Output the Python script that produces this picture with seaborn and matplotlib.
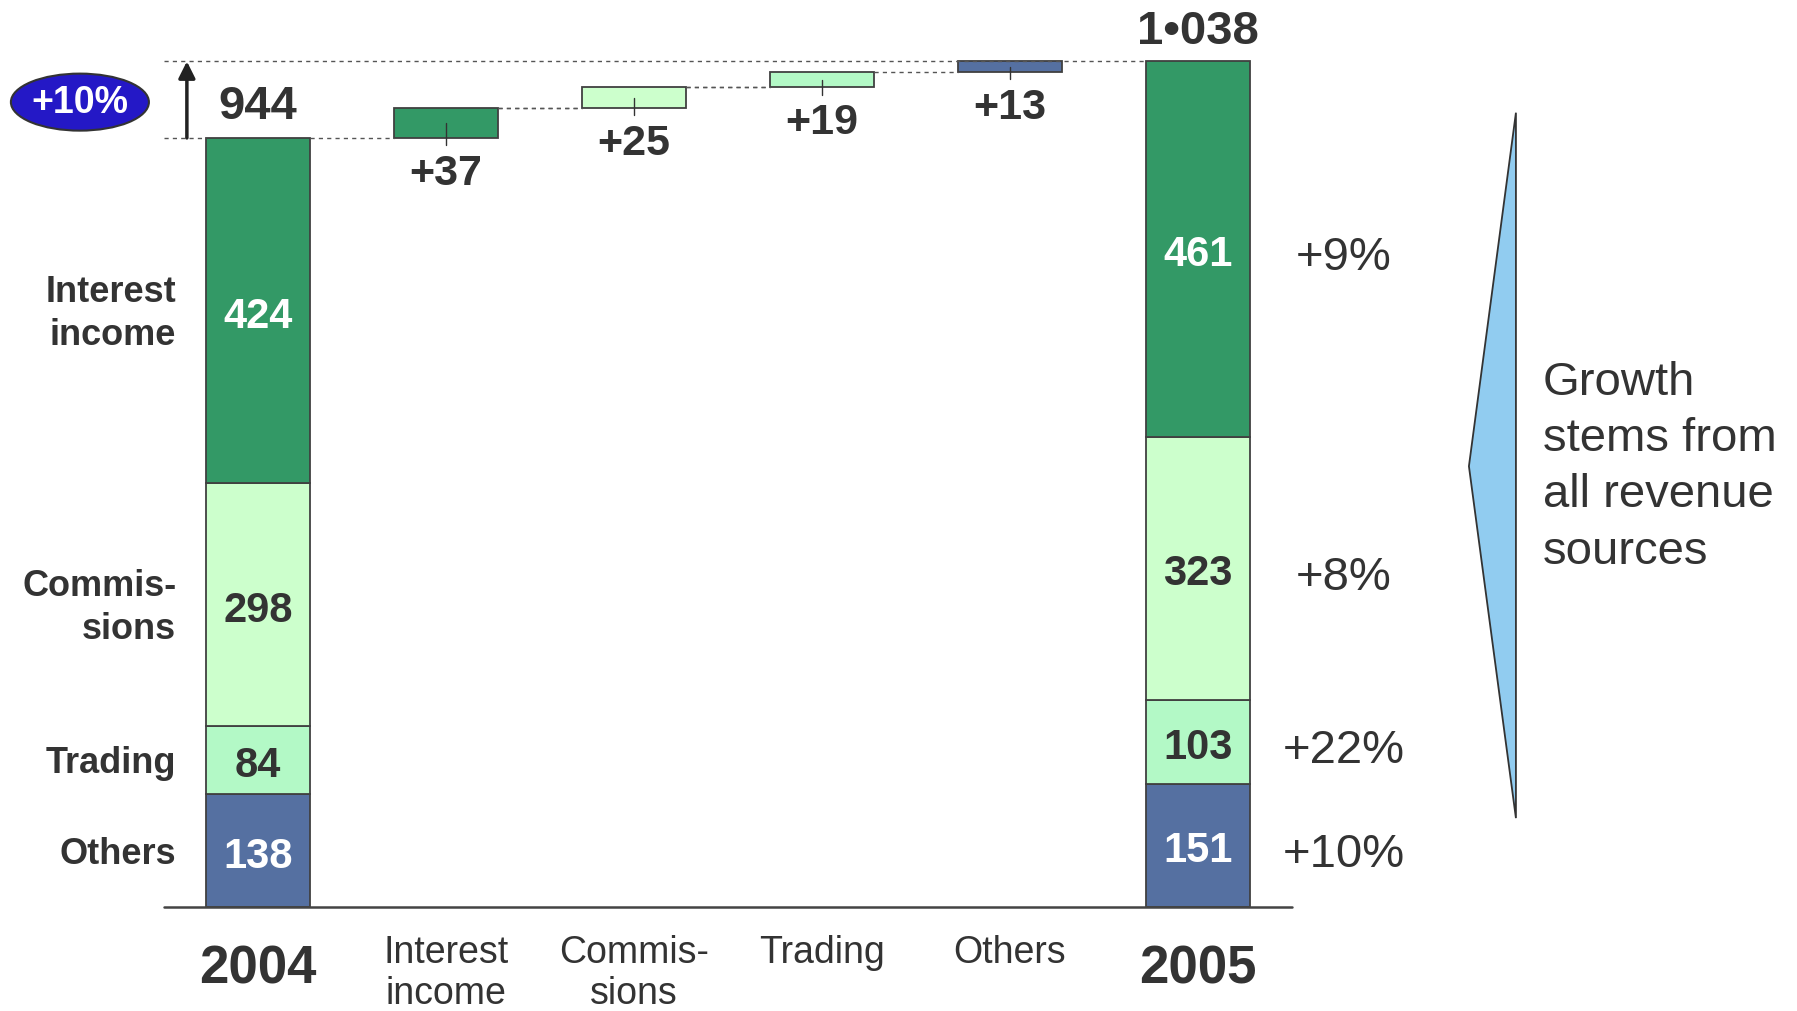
import matplotlib
matplotlib.use('Agg')
import matplotlib.pyplot as plt
import seaborn as sns
import pandas as pd
from matplotlib.patches import Ellipse, Polygon

# Data
categories = ['2004', 'Interest income', 'Commissions', 'Trading', 'Others', '2005']
x_labels = ['2004', 'Interest\nincome', 'Commis-\nsions', 'Trading', 'Others', '2005']
segments = ['Others', 'Trading', 'Commissions', 'Interest income']
seg_labels = ['Others', 'Trading', 'Commis-\nsions', 'Interest\nincome']
values_2004 = [138, 84, 298, 424]
values_2005 = [151, 103, 323, 461]
deltas = [37, 25, 19, 13]          # interest, commissions, trading, others
growth = ['+10%', '+22%', '+8%', '+9%']
total_growth = '+10%'

seg_colors = {'Others': '#5570A1', 'Trading': '#B3F9C6',
              'Commissions': '#CCFFCC', 'Interest income': '#339966'}
seg_text = {'Others': 'white', 'Trading': '#333333',
            'Commissions': '#333333', 'Interest income': 'white'}
delta_seg = ['Interest income', 'Commissions', 'Trading', 'Others']

# Build bar table
rows = []
for year, vals in [('2004', values_2004), ('2005', values_2005)]:
    b = 0
    for seg, v in zip(segments, vals):
        rows.append(dict(cat=year, seg=seg, bottom=b, height=v))
        b += v
total_2004 = sum(values_2004)
total_2005 = sum(values_2005)
level = total_2004
for cat, seg, d in zip(categories[1:5], delta_seg, deltas):
    rows.append(dict(cat=cat, seg=seg, bottom=level, height=d))
    level += d
df = pd.DataFrame(rows)

sns.set_style('white')
plt.rcParams['font.family'] = ['Liberation Sans', 'DejaVu Sans']
dark = '#333333'
W = 0.555

fig = plt.figure(figsize=(17.97, 10.12), dpi=100)
ax = fig.add_axes([0, 0, 1, 1])

for _, r in df.iterrows():
    sns.barplot(x=[r['cat']], y=[r['height']], order=categories, bottom=r['bottom'],
                color=seg_colors[r['seg']], saturation=1, width=W,
                edgecolor='#404040', linewidth=1.3, errorbar=None, ax=ax)

ax.set_xlim(-1.372, 8.186)
ax.set_ylim(-127.8, 1114.6)
ax.axis('off')

# baseline
ax.plot([-0.5, 5.5], [0, 0], color='#444444', lw=1.8, zorder=3)

# dashed connectors
dash = dict(color='#555555', lw=1.0, ls=(0, (3, 3)), zorder=1)
ax.plot([-0.5, 5 - W / 2], [total_2005] * 2, **dash)
ax.plot([-0.5, -W / 2], [total_2004] * 2, **dash)
lvl = total_2004
for i, d in enumerate(deltas[:-1]):
    ax.plot([i + W / 2, i + 1 - W / 2], [lvl, lvl], **dash)
    lvl += d
    ax.plot([i + 1 + W / 2, i + 2 - W / 2], [lvl, lvl], **dash)

# delta labels and small ticks
lvl = total_2004
for i, d in enumerate(deltas):
    x = i + 1
    ax.plot([x, x], [lvl + d / 2, lvl - 9], color='#333333', lw=1.0, zorder=4)
    ax.text(x, lvl - 43, f'+{d}', ha='center', va='center', fontsize=31,
            fontweight='bold', color=dark)
    lvl += d

# segment values inside stacked bars
for _, r in df[df['cat'].isin(['2004', '2005'])].iterrows():
    x = categories.index(r['cat'])
    ax.text(x, r['bottom'] + r['height'] / 2 - 6, str(r['height']), ha='center',
            va='center', fontsize=30, fontweight='bold', color=seg_text[r['seg']])

# totals
ax.text(0, 983, str(total_2004), ha='center', va='center', fontsize=34,
        fontweight='bold', color=dark)
ax.text(5, 1075, f'{total_2005:,}'.replace(',', '•'), ha='center', va='center',
        fontsize=34, fontweight='bold', color=dark)

# left segment labels
b = 0
for lab, v in zip(seg_labels, values_2004):
    ax.text(-0.434, b + v / 2 - 3, lab, ha='right', va='center', fontsize=26,
            fontweight='bold', color=dark, linespacing=1.28)
    b += v

# growth per segment
b = 0
for g, v in zip(growth, values_2005):
    ax.text(5.777, b + v / 2 - 10, g, ha='center', va='center', fontsize=34, color=dark)
    b += v

# category labels
for i, lab in enumerate(x_labels):
    if lab in ('2004', '2005'):
        ax.text(i, -76, lab, ha='center', va='center', fontsize=38,
                fontweight='bold', color=dark)
    else:
        ax.text(i, -33, lab, ha='center', va='top', fontsize=27, color=dark,
                linespacing=1.18)

# growth arrow and bubble
ax.annotate('', xy=(-0.378, total_2005), xytext=(-0.378, total_2004),
            arrowprops=dict(arrowstyle='-|>', lw=2.5, color='#222222',
                            mutation_scale=25, shrinkA=0, shrinkB=0))
ax.add_patch(Ellipse((-0.947, 988), 0.734, 70, facecolor='#2418C6',
                     edgecolor='#333333', lw=1.5, zorder=5))
ax.text(-0.947, 988, total_growth, ha='center', va='center', fontsize=27,
        fontweight='bold', color='white', zorder=6)

# side wedge and comment
ax.add_patch(Polygon([(6.691, 975), (6.441, 541), (6.691, 109)], closed=True,
                     facecolor='#91CCF0', edgecolor='#333333', lw=1.3))
ax.text(6.835, 541, 'Growth\nstems from\nall revenue\nsources', ha='left', va='center',
        fontsize=34, color=dark, linespacing=1.36)

plt.savefig('out.png', dpi=100)
